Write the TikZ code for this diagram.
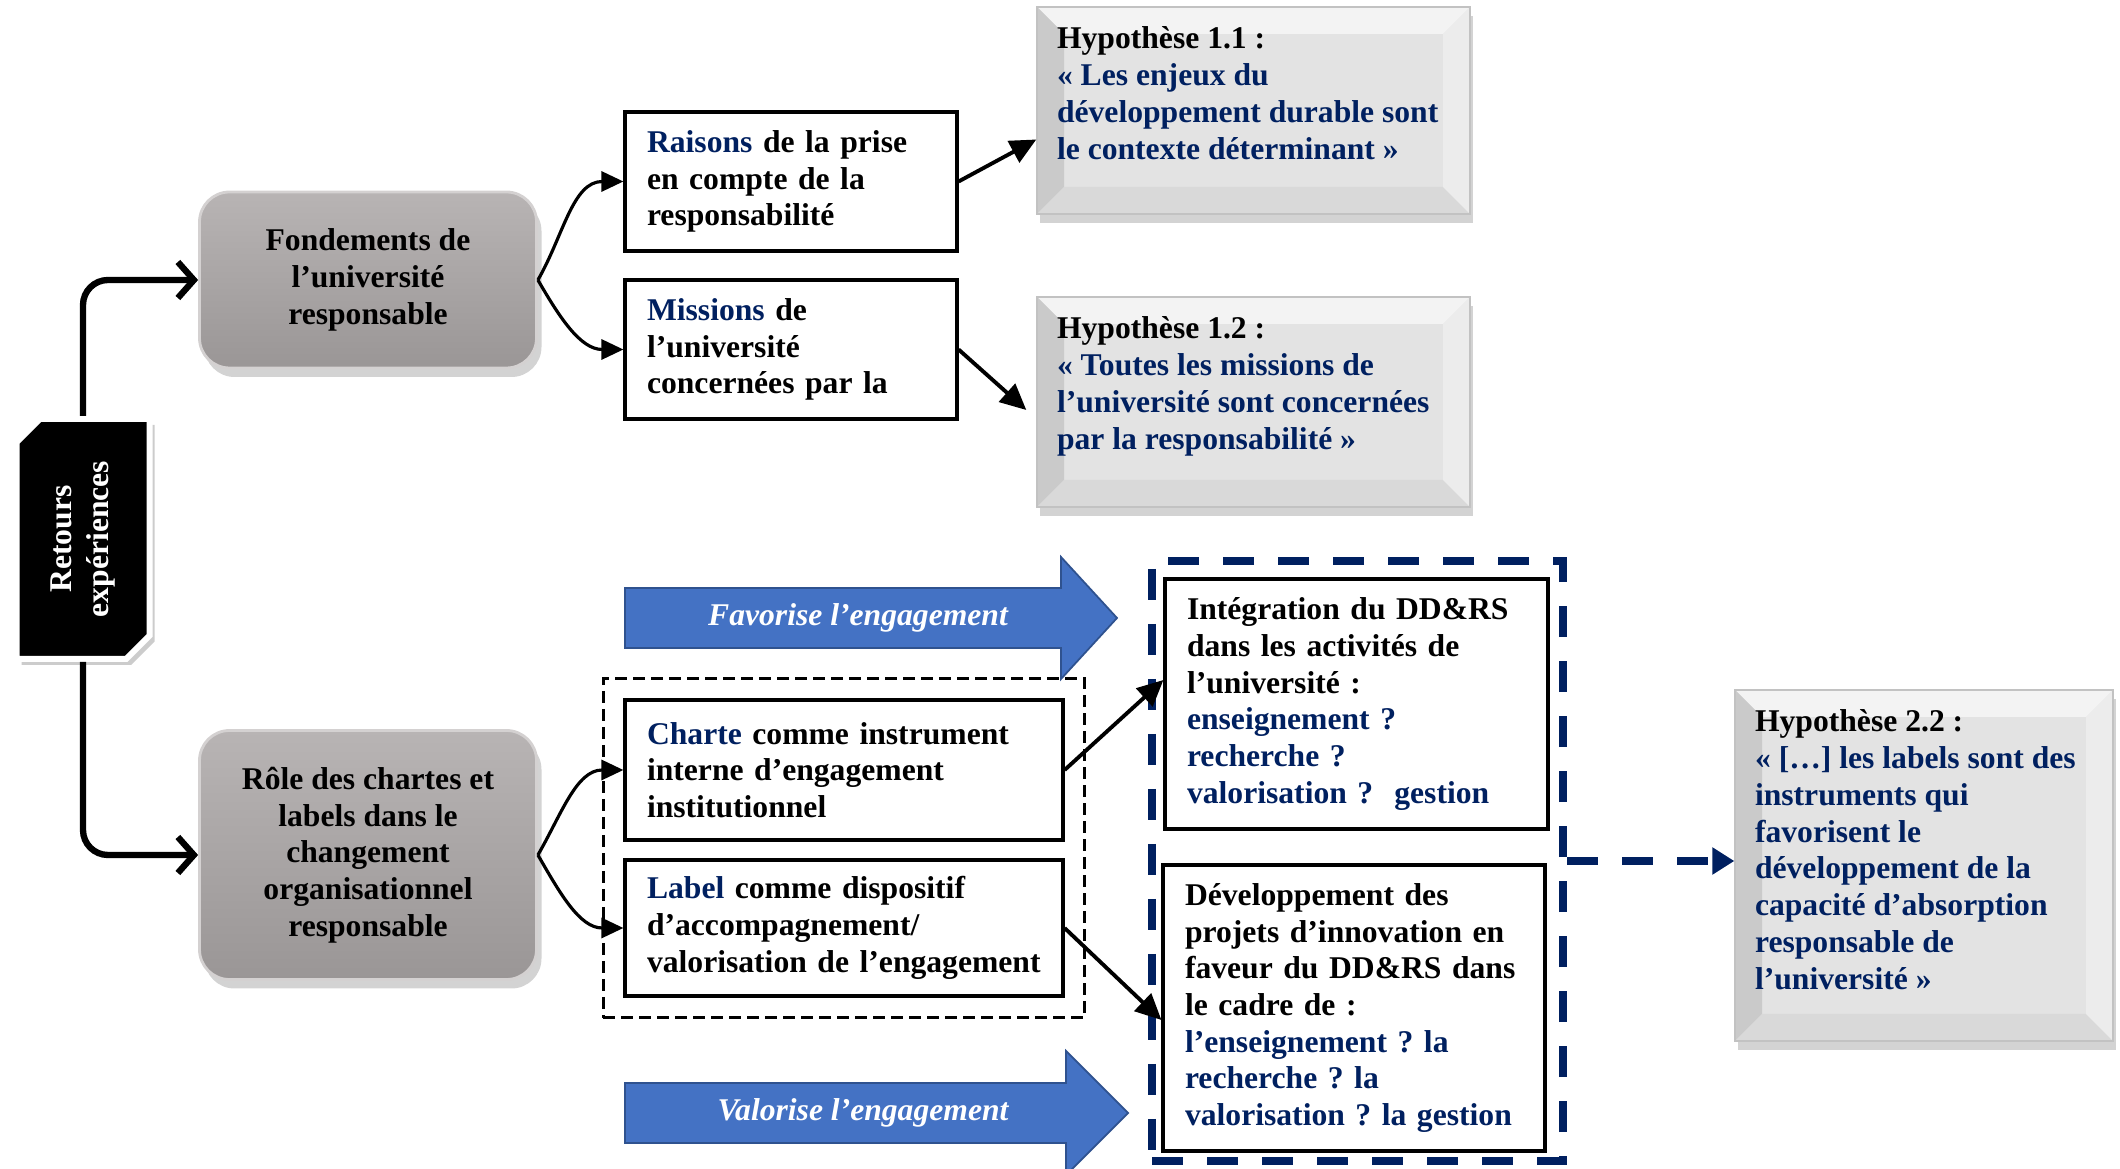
\documentclass[tikz,border=0pt]{standalone}
\usepackage{fontspec}
\setmainfont{Liberation Serif}
\usepackage{xcolor}
\usetikzlibrary{arrows.meta,positioning,shapes.misc,shadows,fit}
\definecolor{urnavy}{HTML}{002060}
\definecolor{urblue}{HTML}{4472C4}
\definecolor{urblueedge}{HTML}{2F528F}
\definecolor{urgraytop}{HTML}{B8B4B4}
\definecolor{urgraybot}{HTML}{9A9696}
\definecolor{urgrayrim}{HTML}{D4D1D1}
\definecolor{hypface}{HTML}{E3E3E3}
\definecolor{hyptop}{HTML}{F3F3F3}
\definecolor{hypleft}{HTML}{CACACA}
\definecolor{hypbot}{HTML}{D9D9D9}
\definecolor{hypright}{HTML}{ECECEC}
\definecolor{hypedge}{HTML}{C2C2C2}
\frenchspacing

\newcommand{\hyptxt}[4]{\parbox[c][#2][t]{#1}{\raggedright Hypothèse #3 :\\\color{urnavy}#4}}

\begin{document}
\begin{tikzpicture}[x=0.1mm,y=0.1mm,font=\fontsize{9}{10.45}\selectfont\bfseries,
  theme/.style={rounded corners=3mm,draw=urgrayrim,line width=0.8pt,top color=urgraytop,bottom color=urgraybot,
    align=center,minimum width=33.7mm,drop shadow={shadow xshift=0.5mm,shadow yshift=-0.9mm,opacity=0.35}},
  retbox/.style={chamfered rectangle,chamfered rectangle corners={north west,south east},
    chamfered rectangle xsep=2.3mm,chamfered rectangle ysep=2.3mm,fill=black,draw=white,line width=0.6mm,
    minimum width=13.3mm,minimum height=24mm,drop shadow={shadow xshift=0.5mm,shadow yshift=-0.6mm,opacity=0.4}},
  rettxt/.style={text=white,rotate=90,align=center},
  idea/.style={draw,line width=0.9pt,fill=white,align=left,inner xsep=2.2mm},
  hyp/.style={draw=hypedge,fill=hypface,inner sep=2mm,
    drop shadow={shadow xshift=0.3mm,shadow yshift=-0.9mm,opacity=0.35},
    path picture={
      \path (path picture bounding box.north west) coordinate (bnw)
        (path picture bounding box.north east) coordinate (bne)
        (path picture bounding box.south west) coordinate (bsw)
        (path picture bounding box.south east) coordinate (bse);
      \fill[hyptop] (bnw) -- (bne) -- ([shift={(-2.7mm,-2.7mm)}]bne) -- ([shift={(2.7mm,-2.7mm)}]bnw) -- cycle;
      \fill[hypleft] (bnw) -- ([shift={(2.7mm,-2.7mm)}]bnw) -- ([shift={(2.7mm,2.7mm)}]bsw) -- (bsw) -- cycle;
      \fill[hypbot] (bsw) -- ([shift={(2.7mm,2.7mm)}]bsw) -- ([shift={(-2.7mm,2.7mm)}]bse) -- (bse) -- cycle;
      \fill[hypright] (bse) -- ([shift={(-2.7mm,2.7mm)}]bse) -- ([shift={(-2.7mm,-2.7mm)}]bne) -- (bne) -- cycle;
    }},
  groupbox/.style={draw,line width=0.3mm,dash pattern=on 1.2mm off 0.6mm,inner sep=2mm},
  navybox/.style={draw=urnavy,line width=0.8mm,dash pattern=on 3.1mm off 2.4mm},
  flow/.style={draw=urblueedge,fill=urblue,line width=0.5pt},
  flowtxt/.style={text=white,font=\fontsize{9}{11}\selectfont\bfseries\itshape},
  feed/.style={line width=1.8pt,rounded corners=2.5mm,-{Straight Barb[length=1.6mm,width=3.6mm]}},
  link/.style={line width=0.9pt,-{Triangle[length=2.2mm,width=2mm]}},
  link2/.style={line width=1.1pt,-{Triangle[length=2.6mm,width=2.4mm]}},
  navyarr/.style={urnavy,line width=0.8mm,dash pattern=on 3.1mm off 2.4mm,-{Triangle[length=2.2mm,width=2.6mm]}}]
  \useasboundingbox (0,0) rectangle (2120,-1169);

  \node[retbox] (retours) at (83,-539) {};
  \node[rettxt] (retourstxt) at (retours.center) {Retours\\expériences};
  \node[theme,minimum height=17.6mm] (fond) at (368,-280) {Fondements de\\l’université\\responsable};
  \node[theme,minimum height=24.9mm] (role) at (368,-855) {Rôle des chartes et\\labels dans le\\changement\\organisationnel\\responsable};

  \node[idea,text width=28.8mm,minimum height=13.9mm] (raisons) at (791,-181.5) {\textcolor{urnavy}{Raisons} de la prise\\en compte de la\\responsabilité};
  \node[idea,text width=28.8mm,minimum height=13.9mm] (missions) at (791,-349.5) {\textcolor{urnavy}{Missions} de\\l’université\\concernées par la};

  \node[hyp] (h11) at (1253.5,-110.5) {\hyptxt{39.3mm}{16.7mm}{1.1}{« Les enjeux du\\développement durable sont\\le contexte déterminant »}};
  \node[hyp] (h12) at (1253.5,-402) {\hyptxt{39.3mm}{17mm}{1.2}{« Toutes les missions de\\l’université sont concernées\\par la responsabilité »}};

  \draw[flow] (625,-588) -- (1061,-588) -- (1061,-557) -- (1117,-618) -- (1061,-679) -- (1061,-648) -- (625,-648) -- cycle;
  \node[flowtxt] (favorise) at (858,-618) {Favorise l’engagement};
  \draw[flow] (625,-1083) -- (1066,-1083) -- (1066,-1051) -- (1128,-1113) -- (1066,-1175) -- (1066,-1143) -- (625,-1143) -- cycle;
  \node[flowtxt] (valorise) at (863,-1113) {Valorise l’engagement};

  \node[idea,text width=39.4mm,minimum height=14mm] (charte) at (844,-770) {\textcolor{urnavy}{Charte} comme instrument\\interne d’engagement\\institutionnel};
  \node[idea,text width=39.4mm,minimum height=13.6mm] (label) at (844,-928) {\textcolor{urnavy}{Label} comme dispositif\\d’accompagnement/\\valorisation de l’engagement};
  \node[groupbox,fit=(charte)(label)] (instr) {};

  \node[navybox,minimum width=41.1mm,minimum height=60mm] (navy) at (1357.5,-861) {};
  \node[idea,text width=33.9mm,minimum height=25mm] (integ) at (1356.5,-704) {Intégration du DD\&RS\\dans les activités de\\l’université :\\\textcolor{urnavy}{enseignement ?}\\\textcolor{urnavy}{recherche ?}\\\textcolor{urnavy}{valorisation ?~ gestion}};
  \node[idea,text width=33.8mm,minimum height=28.6mm] (devel) at (1354,-1008) {Développement des\\projets d’innovation en\\faveur du DD\&RS dans\\le cadre de :\\\textcolor{urnavy}{l’enseignement ? la}\\\textcolor{urnavy}{recherche ? la}\\\textcolor{urnavy}{valorisation ? la gestion}};

  \node[hyp] (h22) at (1924,-865.5) {\hyptxt{33.8mm}{31.1mm}{2.2}{« […] les labels sont des\\instruments qui\\favorisent le\\développement de la\\capacité d’absorption\\responsable de\\l’université »}};

  \draw[feed] (retours.north) |- (fond.west);
  \draw[feed] (retours.south) |- (role.west);
  \draw[link] (fond.east) to[out=60,in=180] (raisons.west);
  \draw[link] (fond.east) to[out=-60,in=180] (missions.west);
  \draw[link] (role.east) to[out=60,in=180] (charte.west);
  \draw[link] (role.east) to[out=-60,in=180] (label.west);
  \draw[link2] (raisons.east) -- ([yshift=-2.9mm]h11.west);
  \draw[link2] (missions.east) -- ([xshift=-1mm,yshift=-0.8mm]h12.west);
  \draw[link2] (charte.east) -- ([yshift=2.4mm]integ.west);
  \draw[link2] (label.east) -- ([yshift=-1.2mm]devel.west);
  \draw[navyarr] (navy.east) -- (navy.east -| h22.west);
\end{tikzpicture}
\end{document}
